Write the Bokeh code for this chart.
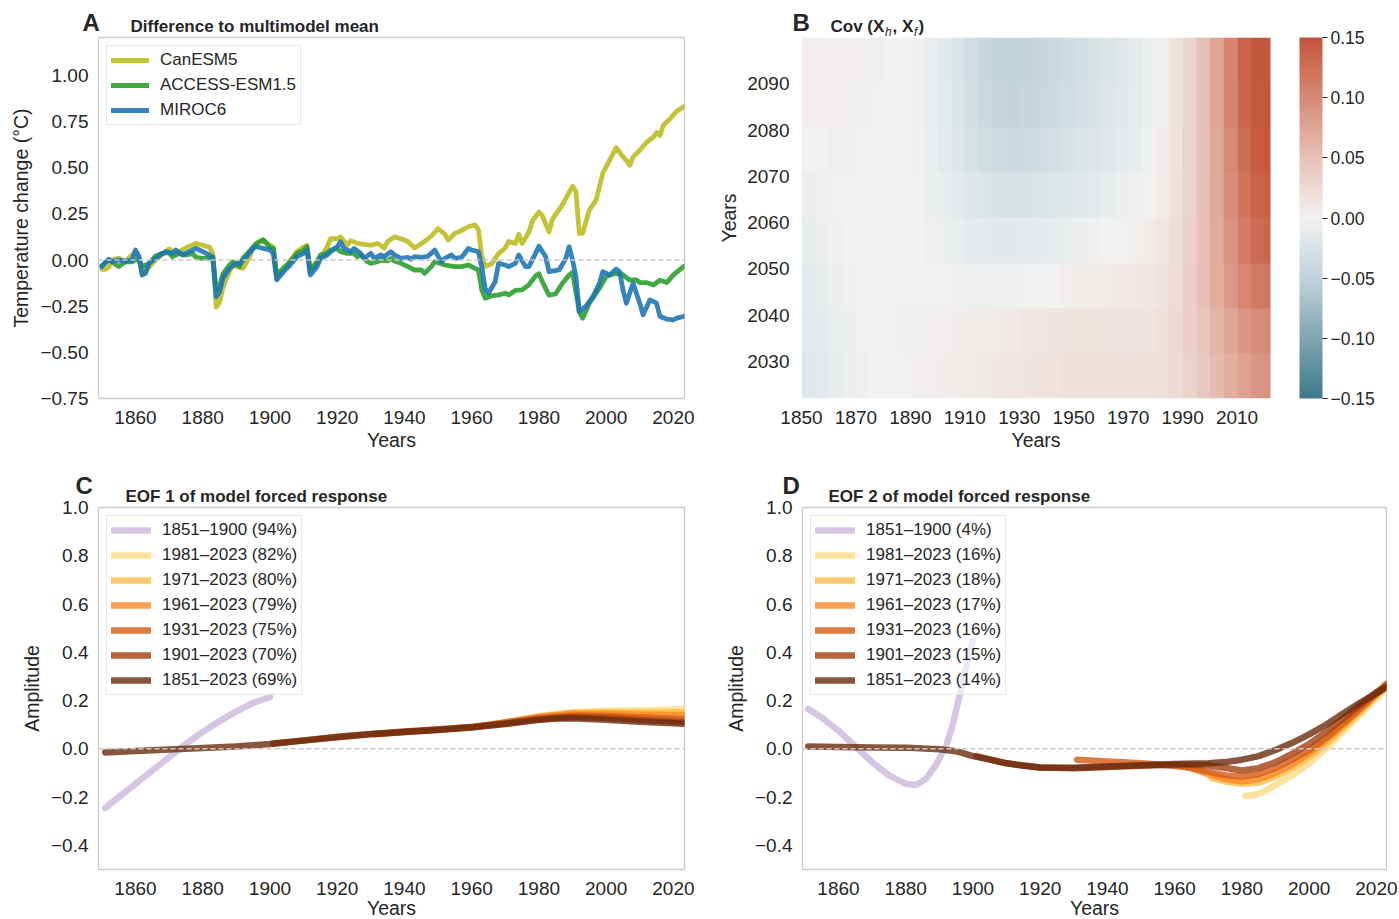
import numpy as np
from bokeh.plotting import figure
from bokeh.layouts import row, column
from bokeh.models import (Span, FixedTicker, CustomJSTickFormatter, LinearColorMapper,
                          ColorBar, Range1d)
from bokeh.core.properties import value
from bokeh.embed import file_html
from bokeh.resources import INLINE

FONT = "Liberation Sans"
TXT = "#262626"

# ---------------- Panel A: difference to multimodel mean ----------------
can_years = [1850, 1851, 1852, 1853, 1855, 1857, 1858, 1860, 1861, 1862, 1864, 1866, 1868, 1870, 1872,
             1874, 1876, 1878, 1880, 1882, 1883, 1884, 1885, 1886, 1888, 1889, 1890, 1892, 1894, 1895,
             1896, 1898, 1900, 1901, 1902, 1904, 1905, 1907, 1908, 1910, 1911, 1912, 1914, 1916, 1917,
             1918, 1920, 1921, 1923, 1924, 1926, 1928, 1930, 1932, 1934, 1935, 1937, 1939, 1941, 1943,
             1946, 1948, 1950, 1952, 1953, 1955, 1957, 1959, 1961, 1962, 1963, 1964, 1966, 1968, 1970,
             1971, 1973, 1974, 1975, 1977, 1978, 1980, 1981, 1983, 1984, 1987, 1990, 1991, 1992, 1993,
             1995, 1997, 1999, 2001, 2003, 2005, 2006, 2007, 2008, 2010, 2012, 2014, 2015, 2016, 2017,
             2019, 2021, 2023]
can_vals = [-0.05, -0.05, -0.04, 0.0, 0.01, -0.01, 0.01, 0.045, 0.02, -0.08, -0.04, 0.0, 0.03, 0.06, 0.035,
            0.055, 0.075, 0.09, 0.08, 0.07, 0.035, -0.255, -0.23, -0.15, -0.06, -0.02, -0.035, -0.045, 0.02, 0.07,
            0.09, 0.105, 0.08, 0.07, -0.1, -0.06, -0.03, 0.02, 0.045, 0.07, 0.08, -0.055, -0.01, 0.04, 0.07,
            0.115, 0.115, 0.125, 0.08, 0.105, 0.09, 0.085, 0.08, 0.09, 0.065, 0.1, 0.125, 0.115, 0.1, 0.065,
            0.1, 0.13, 0.17, 0.14, 0.108, 0.144, 0.16, 0.18, 0.19, 0.165, 0.02, -0.035, -0.02, 0.035, 0.065,
            0.1, 0.09, 0.14, 0.09, 0.15, 0.21, 0.26, 0.24, 0.153, 0.22, 0.3, 0.4, 0.37, 0.145, 0.145,
            0.27, 0.325, 0.47, 0.54, 0.608, 0.56, 0.54, 0.513, 0.558, 0.594, 0.638, 0.665, 0.69, 0.675, 0.73,
            0.765, 0.806, 0.83]

access_years = [1850, 1852, 1853, 1855, 1857, 1859, 1860, 1861, 1862, 1864, 1866, 1868, 1870, 1871, 1873,
                1875, 1877, 1878, 1880, 1882, 1883, 1884, 1885, 1886, 1888, 1889, 1891, 1892, 1894, 1896,
                1898, 1900, 1901, 1902, 1904, 1906, 1908, 1910, 1911, 1912, 1914, 1915, 1917, 1918, 1920,
                1921, 1923, 1925, 1926, 1927, 1929, 1930, 1932, 1933, 1935, 1936, 1937, 1939, 1941, 1943,
                1945, 1946, 1948, 1949, 1950, 1952, 1955, 1957, 1959, 1961, 1962, 1963, 1964, 1966, 1968,
                1970, 1971, 1973, 1975, 1977, 1979, 1980, 1981, 1983, 1985, 1987, 1989, 1990, 1992, 1993,
                1995, 1998, 2000, 2002, 2004, 2005, 2007, 2009, 2010, 2012, 2014, 2016, 2018, 2020, 2023]
access_vals = [-0.03, 0.0, -0.01, -0.035, -0.01, -0.01, 0.0, 0.0, -0.035, -0.02, 0.022, 0.036, 0.04, 0.018, 0.036,
               0.027, 0.036, 0.014, 0.009, 0.01, 0.018, -0.16, -0.145, -0.075, -0.027, -0.01, -0.036, 0.01, 0.05, 0.09,
               0.11, 0.07, 0.063, -0.08, -0.045, -0.01, 0.036, 0.054, 0.072, -0.063, -0.009, 0.027, 0.036, 0.054, 0.063,
               0.045, 0.036, 0.036, 0.018, 0.027, -0.009, -0.018, -0.009, 0.0, -0.005, 0.009, -0.005, -0.018, -0.036, -0.054,
               -0.054, -0.072, -0.036, -0.009, -0.014, -0.027, -0.036, -0.036, -0.027, -0.045, -0.054, -0.16, -0.207, -0.194, -0.189,
               -0.18, -0.189, -0.165, -0.162, -0.135, -0.086, -0.075, -0.117, -0.19, -0.183, -0.126, -0.081, -0.068, -0.28, -0.315,
               -0.234, -0.153, -0.09, -0.076, -0.072, -0.081, -0.108, -0.108, -0.122, -0.122, -0.135, -0.11, -0.122, -0.081, -0.036]

miroc_years = [1850, 1852, 1853, 1855, 1857, 1859, 1860, 1861, 1862, 1863, 1864, 1866, 1868, 1869, 1871,
               1872, 1874, 1876, 1878, 1880, 1882, 1883, 1884, 1885, 1886, 1888, 1890, 1891, 1893, 1895,
               1896, 1898, 1900, 1901, 1902, 1904, 1906, 1908, 1910, 1911, 1912, 1914, 1915, 1917, 1918,
               1920, 1921, 1922, 1924, 1925, 1927, 1928, 1930, 1931, 1933, 1934, 1936, 1937, 1939, 1941,
               1942, 1943, 1945, 1947, 1949, 1951, 1952, 1954, 1955, 1957, 1959, 1960, 1962, 1963, 1964,
               1965, 1967, 1968, 1970, 1971, 1973, 1974, 1976, 1977, 1979, 1980, 1982, 1983, 1986, 1988,
               1989, 1990, 1991, 1992, 1994, 1996, 1998, 1999, 2001, 2003, 2004, 2005, 2006, 2008, 2010,
               2011, 2013, 2015, 2016, 2018, 2020, 2021, 2023]
miroc_vals = [-0.036, 0.004, -0.009, 0.0, -0.005, 0.0, 0.054, 0.018, -0.081, -0.072, -0.018, 0.009, 0.036, 0.045, 0.036,
              0.054, 0.027, 0.045, 0.063, 0.045, 0.027, 0.009, -0.198, -0.171, -0.099, -0.045, -0.018, -0.018, 0.018, 0.063,
              0.072, 0.063, 0.054, 0.036, -0.108, -0.063, -0.027, 0.018, 0.036, 0.054, -0.081, -0.036, 0.009, 0.027, 0.045,
              0.072, 0.099, 0.063, 0.045, 0.063, 0.036, 0.009, 0.036, 0.009, 0.027, 0.018, 0.045, 0.027, 0.009, 0.014,
              0.004, 0.018, 0.014, 0.02, 0.054, -0.01, 0.009, 0.027, 0.009, 0.014, 0.063, 0.054, 0.045, -0.036, -0.153,
              -0.18, -0.117, -0.018, -0.027, -0.036, -0.018, 0.027, -0.036, -0.036, 0.036, 0.075, 0.018, -0.063, -0.054, 0.009,
              0.072, 0.0, -0.09, -0.28, -0.25, -0.2, -0.126, -0.063, -0.081, -0.049, -0.063, -0.162, -0.234, -0.126, -0.234,
              -0.297, -0.216, -0.234, -0.306, -0.32, -0.324, -0.315, -0.306]

model_names = ["CanESM5", "ACCESS-ESM1.5", "MIROC6"]
model_colors = ["#bcbd22", "#2ca02c", "#1f77b4"]

# ---------------- Panel B: covariance between historical and future years ----------------
# 5-year historical columns starting 1850; one row per band of future years (bottom to top)
cov_x_start, cov_x_step = 1850, 5
cov_y_start, cov_y_end = 2022, 2100
cov_2022_2031 = [-0.016, -0.014, -0.010, -0.007, -0.004, -0.001, 0.001, 0.002, 0.003, 0.004, 0.005, 0.006,
                 0.008, 0.009, 0.011, 0.012, 0.014, 0.015, 0.016, 0.017, 0.018, 0.018, 0.018, 0.017, 0.017,
                 0.017, 0.019, 0.024, 0.032, 0.042, 0.054, 0.066, 0.078, 0.088, 0.093]
cov_2031_2041 = [-0.015, -0.012, -0.008, -0.005, -0.002, 0.000, 0.002, 0.003, 0.003, 0.003, 0.004, 0.005,
                 0.006, 0.007, 0.008, 0.009, 0.011, 0.012, 0.014, 0.015, 0.015, 0.015, 0.015, 0.014, 0.014,
                 0.015, 0.018, 0.024, 0.034, 0.046, 0.060, 0.074, 0.087, 0.097, 0.102]
cov_2041_2051 = [-0.013, -0.010, -0.006, -0.003, 0.000, 0.001, 0.002, 0.002, 0.001, 0.000, -0.002, -0.003,
                 -0.004, -0.004, -0.004, -0.003, -0.002, 0.000, 0.002, 0.004, 0.006, 0.007, 0.008, 0.009, 0.010,
                 0.012, 0.016, 0.023, 0.035, 0.050, 0.067, 0.085, 0.102, 0.115, 0.120]
cov_2051_2061 = [-0.010, -0.007, -0.003, -0.001, 0.001, 0.002, 0.001, 0.000, -0.001, -0.003, -0.006, -0.009,
                 -0.012, -0.014, -0.015, -0.015, -0.014, -0.012, -0.010, -0.008, -0.005, -0.003, -0.001, 0.001,
                 0.003, 0.006, 0.011, 0.020, 0.033, 0.050, 0.070, 0.092, 0.113, 0.128, 0.135]
cov_2061_2071 = [-0.006, -0.003, 0.000, 0.001, 0.002, 0.002, 0.001, 0.000, -0.002, -0.005, -0.009, -0.014,
                 -0.019, -0.023, -0.026, -0.027, -0.026, -0.024, -0.021, -0.019, -0.016, -0.013, -0.010, -0.007,
                 -0.004, 0.000, 0.007, 0.018, 0.032, 0.050, 0.072, 0.097, 0.120, 0.136, 0.142]
cov_2071_2080 = [0.000, 0.002, 0.003, 0.003, 0.002, 0.002, 0.001, 0.000, -0.003, -0.007, -0.012, -0.019,
                 -0.027, -0.033, -0.037, -0.038, -0.037, -0.034, -0.031, -0.028, -0.024, -0.020, -0.016, -0.012,
                 -0.008, -0.003, 0.005, 0.016, 0.031, 0.050, 0.073, 0.100, 0.127, 0.142, 0.147]
cov_2080_2090 = [0.004, 0.004, 0.004, 0.003, 0.003, 0.002, 0.001, 0.000, -0.003, -0.008, -0.014, -0.023,
                 -0.033, -0.041, -0.046, -0.047, -0.045, -0.042, -0.038, -0.035, -0.031, -0.026, -0.021, -0.016,
                 -0.011, -0.005, 0.004, 0.015, 0.030, 0.050, 0.075, 0.105, 0.133, 0.146, 0.150]
cov_2090_2100 = [0.004, 0.004, 0.004, 0.004, 0.003, 0.003, 0.002, 0.000, -0.003, -0.008, -0.015, -0.025,
                 -0.035, -0.043, -0.048, -0.049, -0.047, -0.044, -0.040, -0.037, -0.033, -0.028, -0.023, -0.018,
                 -0.012, -0.005, 0.004, 0.015, 0.030, 0.050, 0.075, 0.105, 0.135, 0.148, 0.150]
cov_rows = [cov_2022_2031, cov_2031_2041, cov_2041_2051, cov_2051_2061,
            cov_2061_2071, cov_2071_2080, cov_2080_2090, cov_2090_2100]

cbar_ticks = [-0.15, -0.10, -0.05, 0.0, 0.05, 0.10, 0.15]

# ---------------- Panels C and D: EOF amplitudes per training period ----------------
period_labels = ["1851\u20131900", "1981\u20132023", "1971\u20132023", "1961\u20132023",
                 "1931\u20132023", "1901\u20132023", "1851\u20132023"]
eof1_pct = [94, 82, 80, 79, 75, 70, 69]
eof2_pct = [4, 16, 18, 17, 16, 15, 14]
period_colors = ["#cdb8dc", "#fedc84", "#febb45", "#f98a24", "#d65a14", "#a23e10", "#6a2a0c"]

eof1_years = [
    [1851, 1855, 1860, 1865, 1870, 1875, 1880, 1885, 1890, 1895, 1900],
    [1981, 1990, 2000, 2010, 2020, 2023],
    [1971, 1980, 1990, 2000, 2010, 2020, 2023],
    [1961, 1970, 1980, 1990, 2000, 2010, 2020, 2023],
    [1931, 1940, 1950, 1960, 1970, 1980, 1990, 2000, 2010, 2020, 2023],
    [1901, 1910, 1920, 1930, 1940, 1950, 1960, 1970, 1980, 1990, 2000, 2010, 2020, 2023],
    [1851, 1860, 1870, 1880, 1890, 1900, 1910, 1920, 1930, 1940, 1950, 1960, 1970, 1980, 1985, 1990,
     2000, 2010, 2020, 2023],
]
eof1_amp = [
    [-0.245, -0.2, -0.145, -0.09, -0.035, 0.02, 0.07, 0.115, 0.155, 0.19, 0.215],
    [0.135, 0.152, 0.158, 0.16, 0.163, 0.165],
    [0.11, 0.135, 0.15, 0.152, 0.152, 0.152, 0.152],
    [0.092, 0.11, 0.132, 0.145, 0.145, 0.142, 0.14, 0.14],
    [0.06, 0.07, 0.08, 0.09, 0.108, 0.128, 0.138, 0.136, 0.13, 0.125, 0.123],
    [0.022, 0.035, 0.05, 0.062, 0.072, 0.08, 0.09, 0.105, 0.122, 0.132, 0.128, 0.12, 0.113, 0.112],
    [-0.015, -0.009, -0.003, 0.003, 0.01, 0.02, 0.034, 0.048, 0.06, 0.07, 0.078, 0.088, 0.103, 0.12, 0.126,
     0.127, 0.12, 0.112, 0.106, 0.104],
]

eof2_years = [
    [1851, 1855, 1860, 1865, 1870, 1875, 1880, 1883, 1886, 1889, 1892, 1894, 1896, 1898, 1900],
    [1981, 1984, 1987, 1990, 1995, 2000, 2005, 2010, 2015, 2020, 2023],
    [1971, 1975, 1980, 1985, 1990, 1995, 2000, 2005, 2010, 2015, 2020, 2023],
    [1961, 1965, 1970, 1975, 1980, 1985, 1990, 1995, 2000, 2005, 2010, 2015, 2020, 2023],
    [1931, 1940, 1950, 1960, 1965, 1970, 1975, 1980, 1985, 1990, 1995, 2000, 2005, 2010, 2015, 2020, 2023],
    [1901, 1910, 1920, 1930, 1940, 1950, 1960, 1970, 1980, 1985, 1990, 1995, 2000, 2005, 2010, 2015, 2020, 2023],
    [1851, 1860, 1870, 1880, 1890, 1895, 1900, 1905, 1910, 1915, 1920, 1930, 1940, 1950, 1960, 1970, 1975,
     1980, 1985, 1990, 1995, 2000, 2005, 2010, 2015, 2020, 2023],
]
eof2_amp = [
    [0.165, 0.13, 0.075, 0.01, -0.055, -0.11, -0.145, -0.15, -0.125, -0.065, 0.01, 0.1, 0.22, 0.34, 0.45],
    [-0.195, -0.19, -0.175, -0.15, -0.11, -0.06, 0.0, 0.07, 0.14, 0.21, 0.25],
    [-0.12, -0.135, -0.145, -0.14, -0.115, -0.08, -0.035, 0.02, 0.085, 0.15, 0.22, 0.26],
    [-0.065, -0.08, -0.105, -0.125, -0.135, -0.125, -0.1, -0.065, -0.02, 0.035, 0.095, 0.16, 0.225, 0.265],
    [-0.045, -0.052, -0.06, -0.07, -0.08, -0.095, -0.11, -0.115, -0.105, -0.08, -0.045, -0.005, 0.045, 0.105,
     0.165, 0.23, 0.27],
    [-0.03, -0.06, -0.077, -0.08, -0.075, -0.07, -0.066, -0.068, -0.09, -0.08, -0.055, -0.02, 0.02, 0.07, 0.125,
     0.18, 0.235, 0.26],
    [0.01, 0.008, 0.006, 0.005, -0.002, -0.01, -0.03, -0.045, -0.06, -0.07, -0.077, -0.078, -0.073, -0.068,
     -0.063, -0.06, -0.055, -0.045, -0.03, -0.005, 0.025, 0.06, 0.1, 0.145, 0.19, 0.23, 0.255],
]


def signed_formatter(digits):
    return CustomJSTickFormatter(code=f"""
        const s = Math.abs(tick).toFixed({digits});
        return (tick < -1e-9 ? "\\u2212" : "") + s;
    """)


def style_axes(p, xlabel, ylabel):
    p.xgrid.visible = False
    p.ygrid.visible = False
    if xlabel:
        p.xaxis.axis_label = xlabel
    p.yaxis.axis_label = ylabel
    for ax in p.axis:
        ax.axis_line_color = None
        ax.major_tick_line_color = None
        ax.minor_tick_line_color = None
        ax.major_tick_out = 0
        ax.major_tick_in = 0
        ax.minor_tick_out = 0
        ax.minor_tick_in = 0
        ax.major_label_text_font = FONT
        ax.major_label_text_font_size = "19px"
        ax.major_label_text_color = TXT
        ax.axis_label_text_font = FONT
        ax.axis_label_text_font_size = "19.5px"
        ax.axis_label_text_font_style = "normal"
        ax.axis_label_text_color = TXT
    p.xaxis.major_label_standoff = 12
    p.xaxis.axis_label_standoff = 2
    p.yaxis.major_label_standoff = 10
    p.yaxis.axis_label_standoff = 5


def style_legend(p, glyph_w):
    lg = p.legend[0]
    lg.location = "top_left"
    lg.margin = 8
    lg.padding = 4
    lg.spacing = 5
    lg.label_height = 20
    lg.glyph_height = 20
    lg.glyph_width = glyph_w
    lg.label_standoff = 11
    lg.label_text_font = FONT
    lg.label_text_font_size = "17px"
    lg.label_text_color = TXT
    lg.border_line_color = "#d4d4d4"
    lg.border_line_width = 1
    lg.background_fill_color = "white"
    lg.background_fill_alpha = 0.6


def text_layer(width, height, items):
    """Transparent figure, laid over a panel, that carries the panel letter and titles.
    Coordinates are pixels from the panel's top-left corner; y is the text's middle."""
    t = figure(width=width, height=height, output_backend="svg", toolbar_location=None,
               x_range=Range1d(0, width), y_range=Range1d(height, 0),
               x_axis_location=None, y_axis_location=None,
               min_border_left=0, min_border_right=0, min_border_top=0, min_border_bottom=0)
    t.outline_line_color = None
    t.background_fill_color = None
    t.border_fill_color = None
    t.xgrid.visible = False
    t.ygrid.visible = False
    for txt, x, y, size, style, align in items:
        t.text(x=[x], y=[y], text=[txt], text_font=value(FONT), text_font_size=value(size),
               text_font_style=value(style), text_color=TXT, text_baseline="middle",
               text_align=align)
    return t


def stacked(panel, overlay, height):
    # each figure sits in its own row so the two frames are laid out independently;
    # the negative bottom margin puts the text layer exactly over the panel
    panel.border_fill_color = None
    base = row(panel)
    base.margin = (0, 0, -height, 0)
    return column(base, row(overlay))


# ---- A ----
pA = figure(width=700, height=460, output_backend="svg", toolbar_location=None,
            x_range=Range1d(1849.0, 2023.3), y_range=Range1d(-0.75, 1.205),
            min_border_left=98, min_border_right=16, min_border_top=37, min_border_bottom=62)
pA.outline_line_color = "#cccccc"
pA.outline_line_width = 1.3
for name, col, xs, ys in zip(model_names, model_colors,
                             [can_years, access_years, miroc_years],
                             [can_vals, access_vals, miroc_vals]):
    pA.line(xs, ys, line_color=col, line_width=4.8, line_alpha=0.9, line_join="round",
            line_cap="round", legend_label=name)
pA.add_layout(Span(location=0, dimension="width", line_color="#c8c8c8", line_width=1.5,
                   line_dash="5 3"))
style_axes(pA, "Years", "Temperature change (\u00b0C)")
pA.xaxis.ticker = FixedTicker(ticks=list(range(1860, 2021, 20)))
pA.yaxis.ticker = FixedTicker(ticks=[-0.75, -0.5, -0.25, 0.0, 0.25, 0.5, 0.75, 1.0])
pA.yaxis.formatter = signed_formatter(2)
style_legend(pA, 38)
tA = text_layer(700, 460, [("A", 82, 22, "24px", "bold", "left"),
                           ("Difference to multimodel mean", 130, 25.5, "17px", "bold", "left")])

# ---- B ----
anchor_vals = [-0.15, -0.10, -0.05, 0.0, 0.05, 0.10, 0.15]
anchor_cols = ["#3f7a8c", "#80a6b2", "#c0d3d9", "#f2f2f2", "#e7c0b5", "#d68a76", "#c4553a"]


def hex_rgb(h):
    return tuple(int(h[i:i + 2], 16) for i in (1, 3, 5))


def build_palette(n=256):
    out = []
    lo, hi = anchor_vals[0], anchor_vals[-1]
    for i in range(n):
        v = lo + (hi - lo) * i / (n - 1)
        k = min(len(anchor_vals) - 2, max(0, int((v - lo) / (anchor_vals[1] - anchor_vals[0]))))
        t = (v - anchor_vals[k]) / (anchor_vals[k + 1] - anchor_vals[k])
        a, b = hex_rgb(anchor_cols[k]), hex_rgb(anchor_cols[k + 1])
        c = [round(a[j] + (b[j] - a[j]) * t) for j in range(3)]
        out.append("#%02x%02x%02x" % tuple(c))
    return out


mapper = LinearColorMapper(palette=build_palette(), low=-0.15, high=0.15)
cov_grid = np.array(cov_rows, dtype=float)          # row 0 = earliest future years
n_cols = cov_grid.shape[1]

pB = figure(width=699, height=460, output_backend="svg", toolbar_location=None,
            x_range=Range1d(1850, 2022.3), y_range=Range1d(2022, 2100),
            min_border_left=101, min_border_right=129, min_border_top=37, min_border_bottom=62)
pB.outline_line_color = None
pB.image(image=[cov_grid], x=cov_x_start, y=cov_y_start, dw=n_cols * cov_x_step,
         dh=cov_y_end - cov_y_start, color_mapper=mapper)
style_axes(pB, "Years", "Years")
pB.yaxis.major_label_standoff = 12
pB.yaxis.axis_label_standoff = 4
pB.xaxis.ticker = FixedTicker(ticks=list(range(1850, 2011, 20)))
pB.yaxis.ticker = FixedTicker(ticks=list(range(2030, 2091, 10)))
cbar = ColorBar(color_mapper=mapper, ticker=FixedTicker(ticks=cbar_ticks),
                formatter=signed_formatter(2), width=23, height=361, padding=0, margin=0,
                location=(29, 0), major_tick_out=5, major_tick_in=0,
                major_tick_line_color=TXT, major_tick_line_width=1,
                major_label_text_font=FONT, major_label_text_font_size="17.5px",
                major_label_text_color=TXT, label_standoff=3,
                bar_line_color=None, border_line_color=None, background_fill_alpha=0)
pB.add_layout(cbar, "right")
tB = text_layer(699, 460, [("B", 92, 22, "24px", "bold", "left"),
                           ("Cov (X", 130, 25.5, "17px", "bold", "left"),
                           ("h", 184.5, 31, "12px", "italic", "left"),
                           (", X", 192, 25.5, "17px", "bold", "left"),
                           ("f", 213.5, 31, "12px", "italic", "left"),
                           (")", 218, 25.5, "17px", "bold", "left")])


# ---- C and D ----
def eof_panel(years, amps, pcts, xr, left_border, right_border, width):
    p = figure(width=width, height=459, output_backend="svg",
               toolbar_location=None, x_range=Range1d(*xr), y_range=Range1d(-0.5, 1.0),
               min_border_left=left_border, min_border_right=right_border,
               min_border_top=47, min_border_bottom=50)
    p.outline_line_color = "#cccccc"
    p.outline_line_width = 1.3
    for lab, pct, col, xs, ys in zip(period_labels, pcts, period_colors, years, amps):
        p.line(xs, ys, line_color=col, line_width=6.5, line_alpha=0.8, line_join="round",
               line_cap="round", legend_label=f"{lab} ({pct}%)")
    p.add_layout(Span(location=0, dimension="width", line_color="#c8c8c8", line_width=1.5,
                      line_dash="5 3"))
    style_axes(p, None, "Amplitude")
    p.xaxis.ticker = FixedTicker(ticks=list(range(1860, 2021, 20)))
    p.yaxis.ticker = FixedTicker(ticks=[-0.4, -0.2, 0.0, 0.2, 0.4, 0.6, 0.8, 1.0])
    p.yaxis.formatter = signed_formatter(1)
    style_legend(p, 40)
    return p


pC = eof_panel(eof1_years, eof1_amp, eof1_pct, (1849.0, 2023.3), 98, 16, 700)
tC = text_layer(700, 459, [("C", 75, 25, "24px", "bold", "left"),
                           ("EOF 1 of model forced response", 125, 35.5, "17px", "bold", "left"),
                           ("Years", 391, 447.5, "19.5px", "normal", "center")])
pD = eof_panel(eof2_years, eof2_amp, eof2_pct, (1849.3, 2023.0), 102, 13, 699)
tD = text_layer(699, 459, [("D", 82, 25, "24px", "bold", "left"),
                           ("EOF 2 of model forced response", 128, 35.5, "17px", "bold", "left"),
                           ("Years", 394, 447.5, "19.5px", "normal", "center")])

layout = column(row(stacked(pA, tA, 460), stacked(pB, tB, 460)),
                row(stacked(pC, tC, 459), stacked(pD, tD, 459)))
open("out.html", "w").write(file_html(layout, INLINE))
